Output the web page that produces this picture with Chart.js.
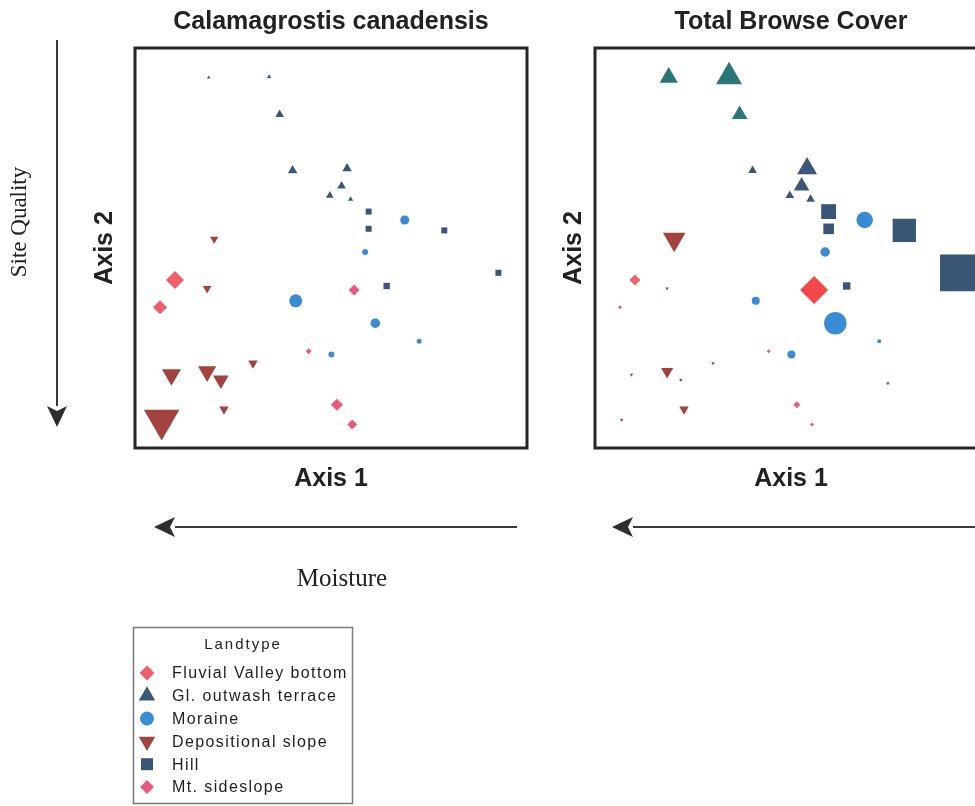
<!DOCTYPE html>
<html>
<head>
<meta charset="utf-8">
<script src="https://cdn.jsdelivr.net/npm/chart.js@4"></script>
<style>
  html, body { margin: 0; padding: 0; background: #fff; overflow: hidden; }
  body { width: 975px; height: 806px; position: relative; }
  #calaChart { position: absolute; left: 0; top: 0; }
  #browseChart { position: absolute; left: 540px; top: 0; }
</style>
</head>
<body>
<canvas id="calaChart" width="560" height="806"></canvas>
<canvas id="browseChart" width="460" height="806"></canvas>
<script>
// Ordination scores (Axis 1 / Axis 2) per landtype, shared by both panels
const landtypes = ['Fluvial Valley bottom', 'Gl. outwash terrace', 'Moraine', 'Depositional slope', 'Hill', 'Mt. sideslope'];

const fluvialX = [10.2, 6.4];
const fluvialY = [42.0, 35.2];
const outwashX = [18.8, 34.2, 36.9, 40.2, 54.1, 52.7, 49.7, 55.0];
const outwashY = [92.6, 92.8, 83.4, 69.4, 69.9, 65.5, 63.1, 62.2];
const moraineX = [68.8, 58.7, 41.0, 61.3, 72.5, 50.1, 74.7];
const moraineY = [57.0, 49.0, 36.8, 31.2, 26.7, 23.4, 16.2];
const deposX = [20.2, 18.4, 9.3, 18.4, 21.9, 30.1, 22.7, 6.8];
const deposY = [52.2, 39.9, 18.3, 19.1, 17.0, 21.2, 9.7, 7.0];
const hillX = [59.6, 59.6, 78.9, 92.7, 64.2];
const hillY = [59.1, 54.8, 54.4, 43.8, 40.5];
const mtX = [55.9, 44.3, 51.5, 55.4];
const mtY = [39.5, 24.2, 10.8, 5.9];

// Relative cover (symbol size) - Calamagrostis canadensis
const calaFluvial = [18, 14];
const calaOutwash = [4, 5, 10, 11, 11, 10, 9, 6];
const calaMoraine = [9, 6, 13, 9.5, 5, 6, 0];
const calaDepos = [9.5, 10, 22, 21, 18, 11, 11, 41];
const calaHill = [8.5, 8.5, 8.5, 8.5, 9];
const calaMt = [11, 6, 12, 10];

// Relative cover (symbol size) - Total browse cover
const browseFluvial = [11, 4];
const browseOutwash = [21, 30, 18, 10, 23, 18, 10, 10];
const browseMoraine = [16.5, 9.5, 8, 22.5, 4, 8, 3];
const browseDepos = [26, 4, 4, 14, 4, 4, 11, 4];
const browseHill = [21, 15, 33, 52, 10.5];
const browseMt = [28, 4, 7, 4];

Chart.defaults.font.family = "'Liberation Sans', Arial, sans-serif";
Chart.defaults.color = '#222';

const colors = {
    fluvial: '#ef5e6a',
    outwash: '#3c5878',
    moraine: '#3a8bd6',
    depos: '#a2433d',
    hill: '#3a5677',
    mt: '#e95a78'
};

function pts(xs, ys) {
    return xs.map((x, i) => ({ x: x, y: ys[i] }));
}
function radii(cover) {
    return cover.map(c => c / 2);
}

function makeDatasets(sizes, overrides) {
    overrides = overrides || {};
    return [
        { label: landtypes[0], data: pts(fluvialX, fluvialY), pointStyle: 'rectRot', pointRotation: 0,
          backgroundColor: overrides.fluvial || colors.fluvial, pointRadius: radii(sizes[0]), legendRadius: 7.5 },
        { label: landtypes[1], data: pts(outwashX, outwashY), pointStyle: 'triangle', pointRotation: 0,
          backgroundColor: overrides.outwash || colors.outwash, pointRadius: radii(sizes[1]), legendRadius: 9.5 },
        { label: landtypes[2], data: pts(moraineX, moraineY), pointStyle: 'circle', pointRotation: 0,
          backgroundColor: overrides.moraine || colors.moraine, pointRadius: radii(sizes[2]), legendRadius: 7 },
        { label: landtypes[3], data: pts(deposX, deposY), pointStyle: 'triangle', pointRotation: 180,
          backgroundColor: overrides.depos || colors.depos, pointRadius: radii(sizes[3]), legendRadius: 9.5 },
        { label: landtypes[4], data: pts(hillX, hillY), pointStyle: 'rect', pointRotation: 0,
          backgroundColor: overrides.hill || colors.hill, pointRadius: radii(sizes[4]), legendRadius: 8.5 },
        { label: landtypes[5], data: pts(mtX, mtY), pointStyle: 'rectRot', pointRotation: 0,
          backgroundColor: overrides.mt || colors.mt, pointRadius: radii(sizes[5]), legendRadius: 7 }
    ].map(ds => Object.assign(ds, {
        pointBorderWidth: 0,
        pointHoverRadius: ds.pointRadius,
        clip: false
    }));
}

// Thick frame around the plot area
const framePlugin = {
    id: 'frame',
    afterDraw(chart) {
        const a = chart.chartArea;
        const ctx = chart.ctx;
        ctx.save();
        ctx.strokeStyle = '#262626';
        ctx.lineWidth = 3;
        ctx.strokeRect(a.left, a.top, a.right - a.left, a.bottom - a.top);
        ctx.restore();
    }
};

function arrow(ctx, x1, y1, x2, y2) {
    // line from (x1,y1) with head at (x2,y2)
    const ang = Math.atan2(y2 - y1, x2 - x1);
    const len = 21, half = 10;
    const bx = x2 - Math.cos(ang) * len, by = y2 - Math.sin(ang) * len;
    ctx.save();
    ctx.strokeStyle = '#3a3a3a';
    ctx.fillStyle = '#2e2e2e';
    ctx.lineWidth = 2;
    ctx.beginPath();
    ctx.moveTo(x1, y1);
    ctx.lineTo(bx, by);
    ctx.stroke();
    ctx.beginPath();
    ctx.moveTo(x2, y2);
    ctx.lineTo(bx - Math.sin(ang) * half, by + Math.cos(ang) * half);
    ctx.lineTo(bx + Math.cos(ang) * 5, by + Math.sin(ang) * 5);
    ctx.lineTo(bx + Math.sin(ang) * half, by - Math.cos(ang) * half);
    ctx.closePath();
    ctx.fill();
    ctx.restore();
}

// Gradient labels, arrows and the shared legend (left panel)
const leftExtras = {
    id: 'leftExtras',
    afterDraw(chart) {
        const ctx = chart.ctx;
        arrow(ctx, 57, 40, 57, 427);
        arrow(ctx, 517, 527, 154, 527);

        ctx.save();
        ctx.fillStyle = '#222';
        ctx.font = "23px 'Liberation Serif', 'Times New Roman', serif";
        ctx.textAlign = 'center';
        ctx.textBaseline = 'middle';
        ctx.translate(20, 222);
        ctx.rotate(-Math.PI / 2);
        ctx.fillText('Site Quality', 0, 0);
        ctx.restore();

        ctx.save();
        ctx.fillStyle = '#222';
        ctx.font = "25px 'Liberation Serif', 'Times New Roman', serif";
        ctx.textAlign = 'center';
        ctx.textBaseline = 'middle';
        ctx.fillText('Moisture', 342, 579);
        ctx.restore();

        // legend box
        ctx.save();
        ctx.strokeStyle = '#7a7a7a';
        ctx.lineWidth = 1.5;
        ctx.strokeRect(133.5, 627.5, 219, 176);
        ctx.fillStyle = '#222';
        ctx.textBaseline = 'middle';
        ctx.textAlign = 'center';
        ctx.font = "15px 'Liberation Sans', Arial, sans-serif";
        ctx.letterSpacing = '2px';
        ctx.fillText('Landtype', 243, 645);
        ctx.textAlign = 'left';
        ctx.font = "16px 'Liberation Sans', Arial, sans-serif";
        ctx.letterSpacing = '1.4px';
        chart.data.datasets.forEach((ds, i) => {
            const y = 673 + i * 22.8;
            ctx.fillStyle = colors[Object.keys(colors)[i]];
            Chart.helpers.drawPoint(ctx, {
                pointStyle: ds.pointStyle,
                rotation: ds.pointRotation,
                radius: ds.legendRadius,
                borderWidth: 0
            }, 147, y);
            ctx.fillStyle = '#1e1e1e';
            ctx.fillText(ds.label, 172, y + 1);
        });
        ctx.restore();
    }
};

const rightExtras = {
    id: 'rightExtras',
    afterDraw(chart) {
        arrow(chart.ctx, 460, 527, 72, 527);
    }
};

function axisOpts(text, pad) {
    return {
        type: 'linear',
        min: 0,
        max: 100,
        grid: { display: false, drawTicks: false },
        border: { display: false },
        ticks: { display: false },
        title: { display: true, text: text, font: { size: 25, weight: 'bold' }, color: '#222', padding: pad }
    };
}

function makeChart(id, title, sizes, overrides, layoutPad, yPad, plugins) {
    return new Chart(document.getElementById(id), {
        type: 'scatter',
        data: { datasets: makeDatasets(sizes, overrides) },
        options: {
            responsive: false,
            animation: false,
            layout: { padding: layoutPad, autoPadding: false },
            plugins: {
                legend: { display: false },
                tooltip: { enabled: false },
                title: {
                    display: true,
                    text: title,
                    fullSize: false,
                    color: '#222',
                    font: { size: 25, weight: 'bold' },
                    padding: { top: 7, bottom: 11 }
                }
            },
            scales: {
                x: axisOpts('Axis 1', { top: 16, bottom: 2 }),
                y: axisOpts('Axis 2', yPad)
            }
        },
        plugins: [framePlugin].concat(plugins)
    });
}

const calaChart = makeChart('calaChart', 'Calamagrostis canadensis',
    [calaFluvial, calaOutwash, calaMoraine, calaDepos, calaHill, calaMt], {},
    { left: 80, right: 33, top: 0, bottom: 310 }, { top: 10, bottom: 15 }, [leftExtras]);

const browseChart = makeChart('browseChart', 'Total Browse Cover',
    [browseFluvial, browseOutwash, browseMoraine, browseDepos, browseHill, browseMt],
    {
        outwash: ['#2b7777', '#2b7777', '#2b7777', colors.outwash, colors.outwash, colors.outwash, colors.outwash, colors.outwash],
        mt: ['#f24848', colors.mt, colors.mt, colors.mt]
    },
    { left: 0, right: 13, top: 0, bottom: 310 }, { top: 19, bottom: 6 }, [rightExtras]);
</script>
</body>
</html>
